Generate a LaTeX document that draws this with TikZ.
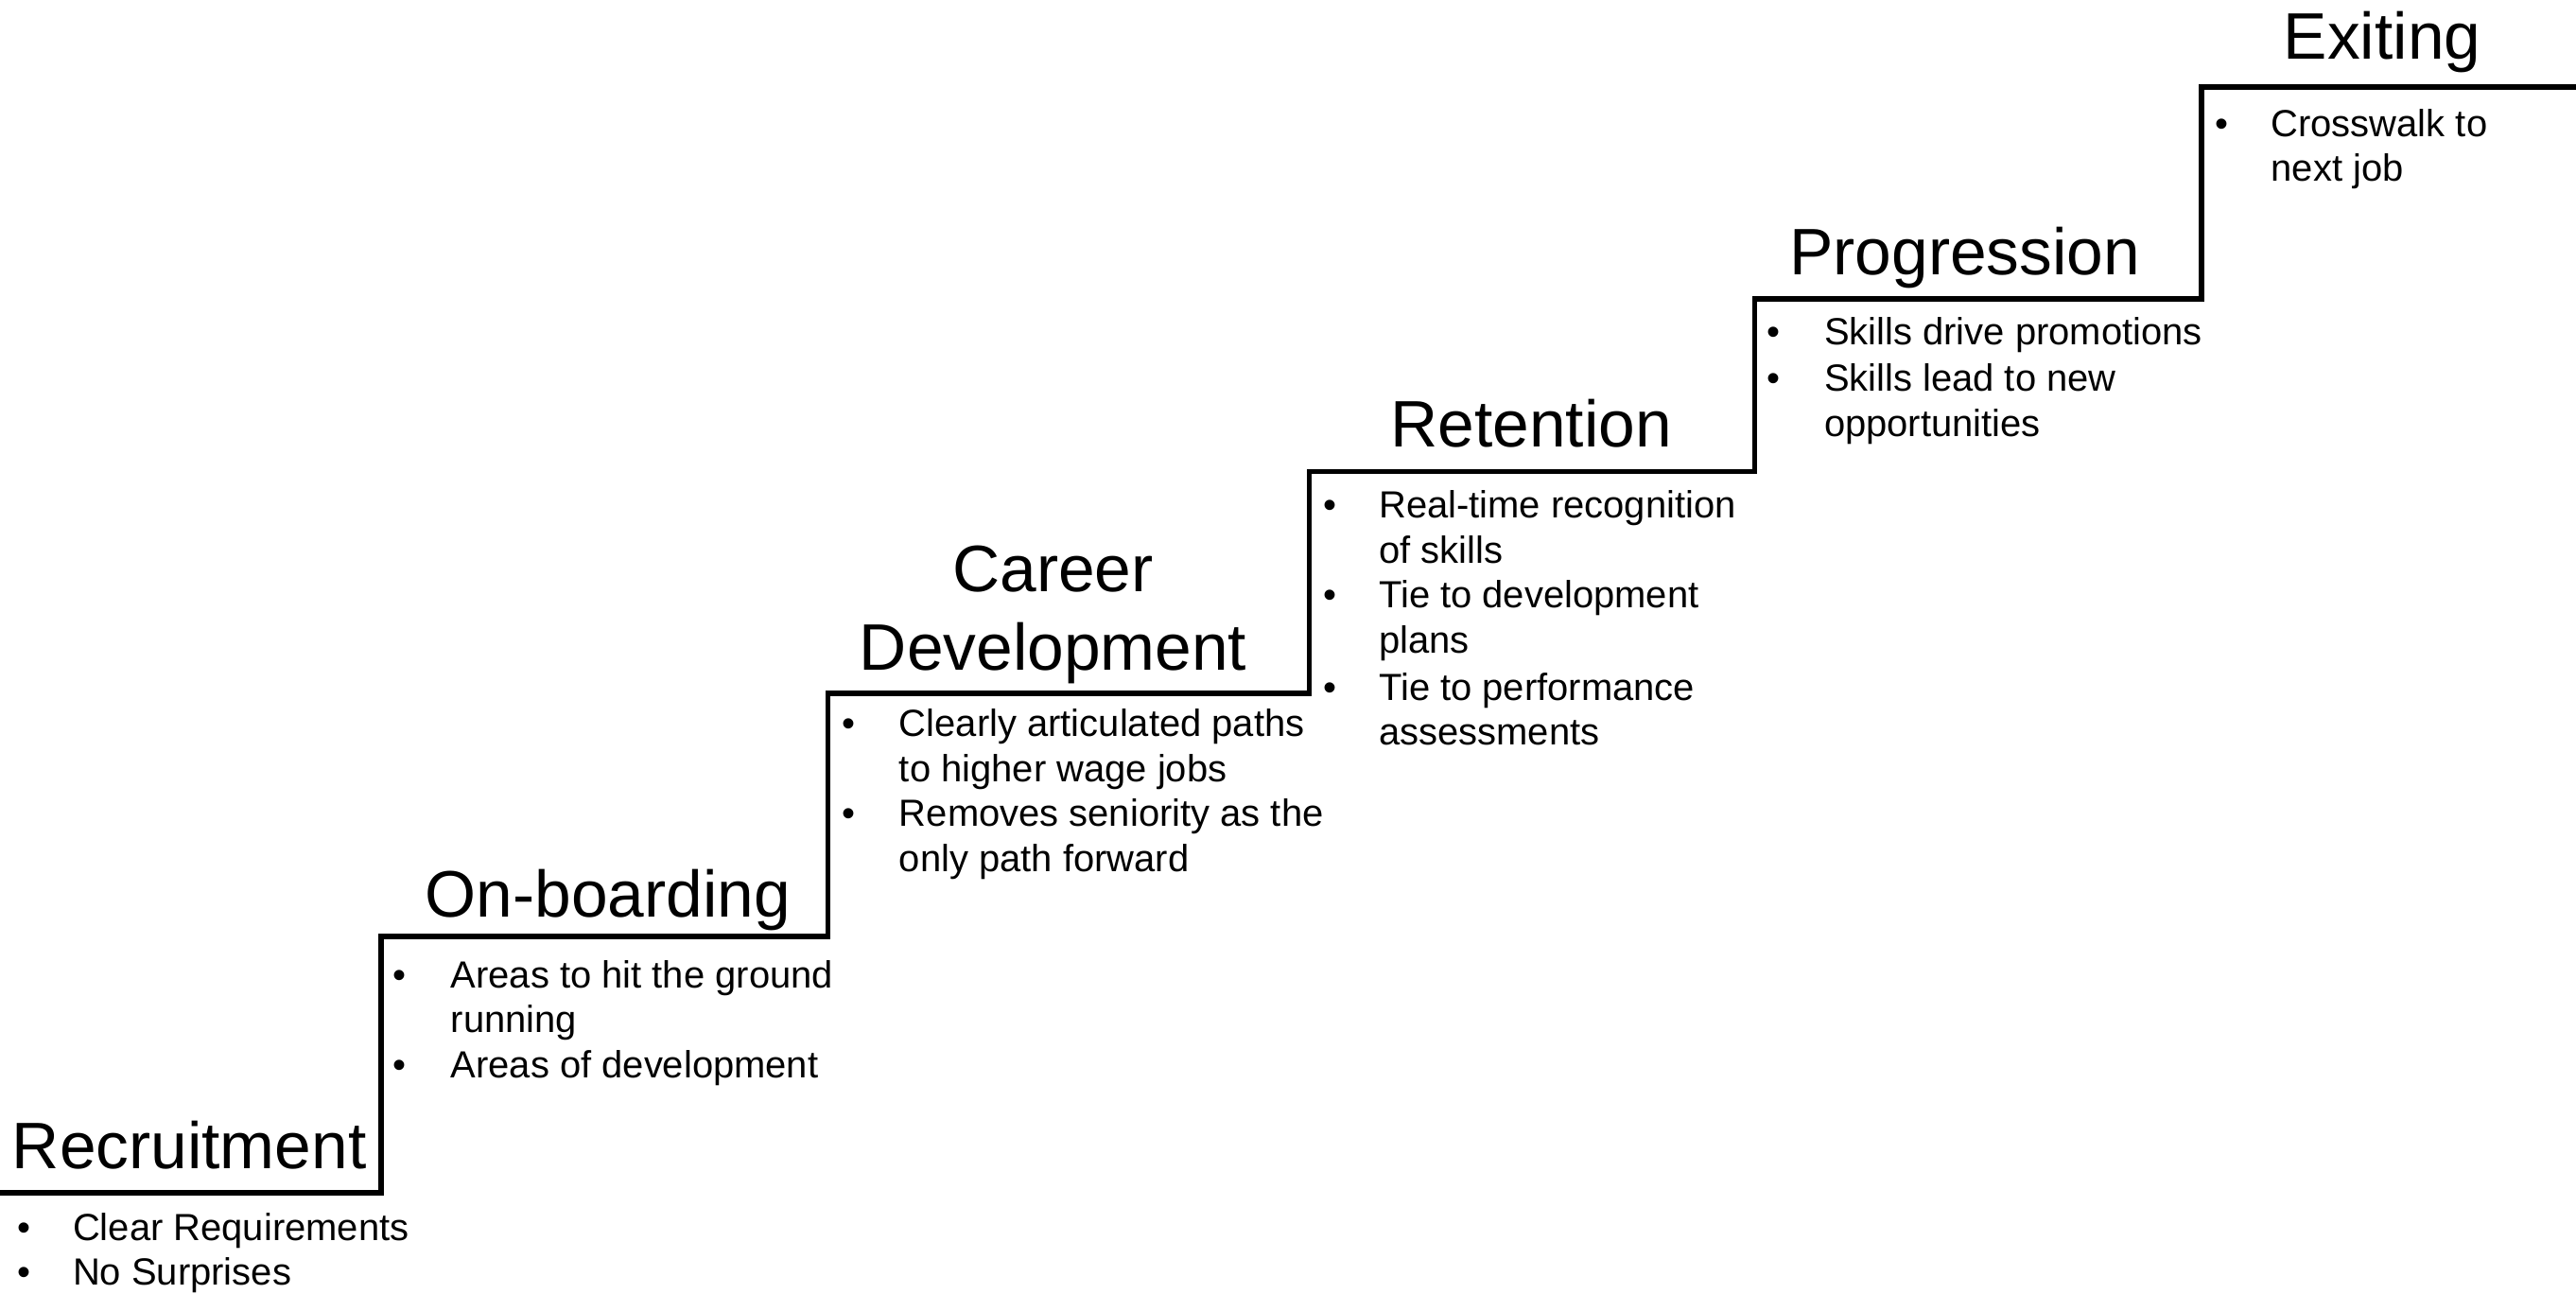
\documentclass[tikz,border=0pt]{standalone}
\usepackage{fontspec}
\setmainfont{Liberation Sans}
\begin{document}
\begin{tikzpicture}[x=0.5pt,y=-0.5pt,
  title/.style={inner sep=0pt,anchor=base,align=center,font=\fontsize{20}{24}\selectfont},
  bul/.style={inner sep=0pt,anchor=base west,font=\fontsize{11.5}{13.75}\selectfont},
  btxt/.style={inner sep=0pt,anchor=base west,align=left,font=\fontsize{11.5}{13.75}\selectfont},
  stair/.style={line width=1.6pt,line join=miter}]
\useasboundingbox (0,0) rectangle (1568,787);
% stair outline
\coordinate (s0) at (0,726);
\coordinate (s1) at (232,726);
\coordinate (s2) at (232,570);
\coordinate (s3) at (504,570);
\coordinate (s4) at (504,422);
\coordinate (s5) at (797,422);
\coordinate (s6) at (797,287);
\coordinate (s7) at (1068,287);
\coordinate (s8) at (1068,182);
\coordinate (s9) at (1340,182);
\coordinate (s10) at (1340,53);
\coordinate (s11) at (1570,53);
\draw[stair] (s0) -- (s1) -- (s2) -- (s3) -- (s4) -- (s5) -- (s6) -- (s7) -- (s8) -- (s9) -- (s10) -- (s11);
% titles (base anchor = baseline of the last line)
\node[title,anchor=base west] (t1) at (7,711) {Recruitment};
\node[title] (t2) at (370,558) {On-boarding};
\node[title] (t3) at (641,408) {Career\\Development};
\node[title] (t4) at (932,272) {Retention};
\node[title] (t5) at (1196,167) {Progression};
\node[title] (t6) at (1450,36) {Exiting};
% Recruitment bullets
\node[bul] (r1b) at (10,755) {\textbullet};
\node[btxt] (r1) at (44,755) {Clear Requirements};
\node[bul] (r2b) at (10,782) {\textbullet};
\node[btxt] (r2) at (44,782) {No Surprises};
% On-boarding bullets
\node[bul] (o1b) at (239,601) {\textbullet};
\node[btxt] (o1) at (274,628.5) {Areas to hit the ground\\running};
\node[bul] (o2b) at (239,656) {\textbullet};
\node[btxt] (o2) at (274,656) {Areas of development};
% Career Development bullets
\node[bul] (c1b) at (512,448) {\textbullet};
\node[btxt] (c1) at (547,475.5) {Clearly articulated paths\\to higher wage jobs};
\node[bul] (c2b) at (512,503) {\textbullet};
\node[btxt] (c2) at (547,530.5) {Removes seniority as the\\only path forward};
% Retention bullets
\node[bul] (e1b) at (805,315) {\textbullet};
\node[btxt] (e1) at (839,342.5) {Real-time recognition\\of skills};
\node[bul] (e2b) at (805,370) {\textbullet};
\node[btxt] (e2) at (839,397.5) {Tie to development\\plans};
\node[bul] (e3b) at (805,426) {\textbullet};
\node[btxt] (e3) at (839,453.5) {Tie to performance\\assessments};
% Progression bullets
\node[bul] (p1b) at (1075,210) {\textbullet};
\node[btxt] (p1) at (1110,210) {Skills drive promotions};
\node[bul] (p2b) at (1075,238) {\textbullet};
\node[btxt] (p2) at (1110,265.5) {Skills lead to new\\opportunities};
% Exiting bullets
\node[bul] (x1b) at (1348,83) {\textbullet};
\node[btxt] (x1) at (1382,110.5) {Crosswalk to\\next job};
\end{tikzpicture}
\end{document}
